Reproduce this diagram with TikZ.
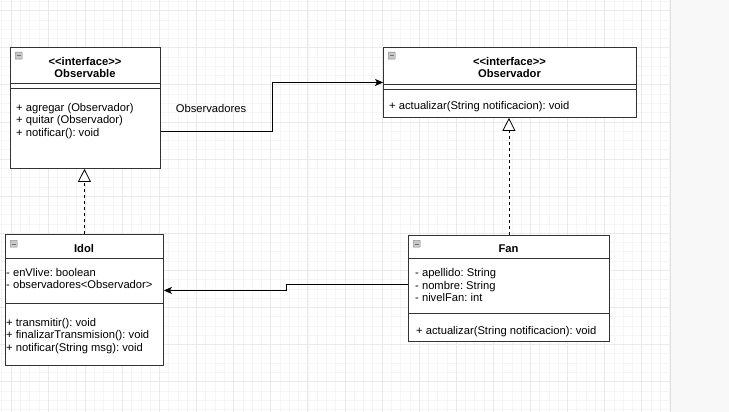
\documentclass[tikz,border=0pt]{standalone}
\usepackage{fontspec}
\setmainfont{Liberation Sans}[Ligatures=TeXOff]
\usetikzlibrary{arrows.meta,calc}
\frenchspacing

\definecolor{gridminor}{HTML}{F5F5F5}
\definecolor{gridmajor}{HTML}{EAEAEA}
\definecolor{panelgray}{HTML}{F8F8F8}
\definecolor{lineclr}{HTML}{333333}
\definecolor{iconfill}{HTML}{C8C8C8}

\tikzset{
  section/.style={draw=lineclr, line width=0.9pt, fill=white, rectangle,
    inner sep=0pt, anchor=north west},
  member/.style={anchor=north west, inner sep=0pt, align=left,
    font=\fontsize{11.2}{12.5}\selectfont},
  title/.style={inner sep=0pt, align=center,
    font=\fontsize{11.2}{12.6}\selectfont\bfseries},
  assoc/.style={draw=black, line width=0.8pt,
    -{Stealth[length=8pt,width=7pt,inset=2pt]}},
  realize/.style={draw=black, line width=0.8pt, dash pattern=on 3pt off 3pt,
    -{Triangle[open,length=13pt,width=13pt,fill=white]}},
  collapse/.style={draw=gray, fill=iconfill, minimum size=7pt, inner sep=0pt,
    anchor=north west, rounded corners=0.5pt,
    path picture={\draw[black!55] ([xshift=1.6pt]path picture bounding box.west)
      -- ([xshift=-1.6pt]path picture bounding box.east);}},
}

\begin{document}
\begin{tikzpicture}[x=1pt,y=-1pt]
  \useasboundingbox (0,0) rectangle (729,412);
  % canvas
  \fill[white] (0,0) rectangle (670,412);
  \foreach \i in {0,...,72}
    \draw[gridminor, line width=0.6pt] ({1.725+9.275*\i},0) -- ({1.725+9.275*\i},412);
  \foreach \j in {0,...,44}
    \draw[gridminor, line width=0.6pt] (0,{1.325+9.275*\j}) -- (670,{1.325+9.275*\j});
  \foreach \i in {0,...,17}
    \draw[gridmajor, line width=0.7pt] ({11+37.1*\i},0) -- ({11+37.1*\i},412);
  \foreach \j in {0,...,10}
    \draw[gridmajor, line width=0.7pt] (0,{10.6+37.1*\j}) -- (670,{10.6+37.1*\j});
  \fill[panelgray] (670,0) rectangle (729,412);
  \draw[black!12] (670,0) -- (670,412);

  % Observable
  \node[section, minimum width=150pt, minimum height=36pt] (obsHead) at (10,47) {};
  \node[section, minimum width=150pt, minimum height=5pt] (obsAttr) at (10,83) {};
  \node[section, minimum width=150pt, minimum height=80pt] (obsOps) at (10,88) {};
  \node[collapse] (obsIcon) at (15,52) {};
  \node[title] (obsTitle) at (85,67.5) {<<interface>>\\Observable};
  \node[member] (obsOpsTxt) at (16,102.8)
    {+ agregar (Observador)\\+ quitar (Observador)\\+ notificar(): void};

  % Observador
  \node[section, minimum width=253pt, minimum height=37pt] (obsvHead) at (383,47) {};
  \node[section, minimum width=253pt, minimum height=5pt] (obsvAttr) at (383,84) {};
  \node[section, minimum width=253pt, minimum height=28pt] (obsvOps) at (383,89) {};
  \node[collapse] (obsvIcon) at (388,52) {};
  \node[title] (obsvTitle) at (509.5,67.5) {<<interface>>\\Observador};
  \node[member] (obsvOpsTxt) at (389,101.1)
    {+ actualizar(String notificacion): void};

  % Idol
  \node[section, minimum width=158pt, minimum height=24pt] (idolHead) at (5,234) {};
  \node[section, minimum width=158pt, minimum height=45pt] (idolAttr) at (5,258) {};
  \node[section, minimum width=158pt, minimum height=62pt] (idolOps) at (5,303) {};
  \node[collapse] (idolIcon) at (10,240) {};
  \node[title, anchor=base] (idolTitle) at (84,252.2) {Idol};
  \node[member] (idolAttrTxt) at (6,268)
    {- enVlive: boolean\\- observadores<Observador>};
  \node[member] (idolOpsTxt) at (6,318)
    {+ transmitir(): void\\+ finalizarTransmision(): void\\+ notificar(String msg): void};

  % Fan
  \node[section, minimum width=201pt, minimum height=23pt] (fanHead) at (408,235) {};
  \node[section, minimum width=201pt, minimum height=55pt] (fanAttr) at (408,258) {};
  \node[section, minimum width=201pt, minimum height=28pt] (fanOps) at (408,313) {};
  \node[collapse] (fanIcon) at (413,240) {};
  \node[title, anchor=base] (fanTitle) at (508.5,252.2) {Fan};
  \node[member] (fanAttrTxt) at (415,268.3)
    {- apellido: String\\- nombre: String\\- nivelFan: int};
  \node[member] (fanOpsTxt) at (416,325.8)
    {+ actualizar(String notificacion): void};

  % relations
  \draw[assoc] ([yshift=-2.5pt]obsOps.east) -- ++(111,0)
    |- ($(obsvHead.north west)!0.5!(obsvOps.south west)$);
  \node[member, anchor=base] (assocLbl) at (211,113) {Observadores};
  \draw[assoc] ([yshift=2pt]fanAttr.west) -- ++(-122,0)
    |- ([yshift=-9.5pt]idolAttr.east);
  \draw[realize] (idolHead.north) -- (idolHead.north |- obsOps.south);
  \draw[realize] (fanHead.north) -- (fanHead.north |- obsvOps.south);
\end{tikzpicture}
\end{document}
